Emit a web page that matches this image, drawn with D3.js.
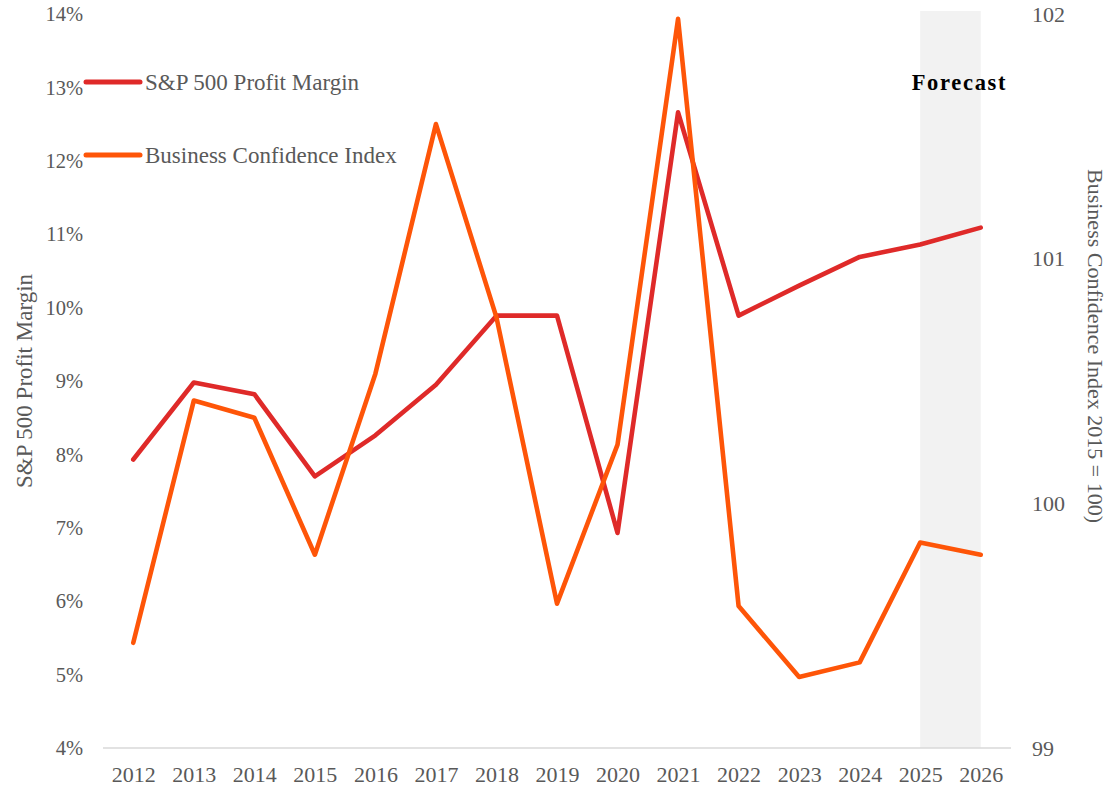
<!DOCTYPE html>
<html><head><meta charset="utf-8">
<script src="https://cdn.jsdelivr.net/npm/d3@7"></script>
<style>
html,body{margin:0;padding:0;background:#fff;}
svg{display:block;font-family:"Liberation Serif","DejaVu Serif",serif;}
</style></head><body>
<svg id="chart" width="1112" height="788"></svg>
<script>
const years = ["2012","2013","2014","2015","2016","2017","2018","2019","2020","2021","2022","2023","2024","2025","2026"];
const profitMargin = [7.93, 8.98, 8.82, 7.70, 8.26, 8.95, 9.89, 9.89, 6.93, 12.66, 9.89, 10.30, 10.69, 10.86, 11.09];
const businessConfidence = [99.43, 100.42, 100.35, 99.79, 100.53, 101.55, 100.76, 99.59, 100.24, 101.98, 99.58, 99.29, 99.35, 99.84, 99.79];
const marginTicks = [4,5,6,7,8,9,10,11,12,13,14];
const confidenceTicks = [99,100,101,102];
const forecastYears = ["2025","2026"];
const seriesNames = ["S&P 500 Profit Margin","Business Confidence Index"];
const seriesColors = ["#df2a29","#fe5508"];
const leftTitle = "S&P 500 Profit Margin";
const rightTitle = "Business Confidence Index 2015 = 100)";
const forecastLabel = "Forecast";

const svg = d3.select("#chart");
const plot = {left:103, right:1011, top:14, bottom:748};
const textColor = "#595959";

const x = d3.scalePoint().domain(years).range([plot.left, plot.right]).padding(0.5);
const yL = d3.scaleLinear().domain([4,14]).range([plot.bottom, plot.top]);
const yR = d3.scaleLinear().domain([99,102]).range([plot.bottom, plot.top]);

// forecast shading
svg.append("rect")
  .attr("x", x(forecastYears[0]))
  .attr("width", x(forecastYears[1]) - x(forecastYears[0]))
  .attr("y", plot.top - 3)
  .attr("height", plot.bottom - plot.top + 3)
  .attr("fill", "#f2f2f2");

// baseline
svg.append("line")
  .attr("x1", plot.left).attr("x2", plot.right)
  .attr("y1", yL(4)).attr("y2", yL(4))
  .attr("stroke", "#d9d9d9").attr("stroke-width", 1.5);

// left axis
const gL = svg.append("g").attr("transform", `translate(${plot.left},0)`)
  .call(d3.axisLeft(yL).tickValues(marginTicks).tickSize(0).tickPadding(20).tickFormat(d => d + "%"));
gL.select(".domain").remove();
gL.selectAll("text").attr("font-size", 20.5).attr("fill", textColor).attr("dy", "0.33em")
  .attr("font-family", '"Liberation Serif",serif');

// right axis
const gR = svg.append("g").attr("transform", `translate(${plot.right},0)`)
  .call(d3.axisRight(yR).tickValues(confidenceTicks).tickSize(0).tickPadding(21).tickFormat(d3.format("d")));
gR.select(".domain").remove();
gR.selectAll("text").attr("font-size", 22).attr("fill", textColor).attr("dy", "0.33em")
  .attr("font-family", '"Liberation Serif",serif');

// bottom axis
const gB = svg.append("g").attr("transform", `translate(0,${plot.bottom})`)
  .call(d3.axisBottom(x).tickSize(0).tickPadding(27));
gB.select(".domain").remove();
gB.selectAll("text").attr("font-size", 22).attr("fill", textColor).attr("dy", "0.33em")
  .attr("font-family", '"Liberation Serif",serif');

// axis titles
svg.append("text")
  .attr("transform", `translate(32,${(plot.top + plot.bottom) / 2}) rotate(-90)`)
  .attr("text-anchor", "middle").attr("font-size", 23).attr("fill", textColor)
  .text(leftTitle);
svg.append("text")
  .attr("transform", `translate(1088,346) rotate(90)`)
  .attr("text-anchor", "middle").attr("font-size", 22).attr("fill", textColor)
  .text(rightTitle);

// lines
const lineL = d3.line().x((d, i) => x(years[i])).y(d => yL(d));
const lineR = d3.line().x((d, i) => x(years[i])).y(d => yR(d));
svg.append("path").datum(profitMargin).attr("d", lineL)
  .attr("fill", "none").attr("stroke", seriesColors[0]).attr("stroke-width", 4.6)
  .attr("stroke-linejoin", "round").attr("stroke-linecap", "round");
svg.append("path").datum(businessConfidence).attr("d", lineR)
  .attr("fill", "none").attr("stroke", seriesColors[1]).attr("stroke-width", 4.6)
  .attr("stroke-linejoin", "round").attr("stroke-linecap", "round");

// forecast label
svg.append("text")
  .attr("x", (x(forecastYears[0]) + x(forecastYears[1])) / 2 + 9)
  .attr("y", 90)
  .attr("text-anchor", "middle").attr("font-size", 22.5).attr("font-weight", "bold")
  .attr("letter-spacing", 1.7).attr("fill", "#000")
  .text(forecastLabel);

// legend
const legendY = [82, 155];
const leg = svg.append("g");
seriesNames.forEach((name, i) => {
  leg.append("line").attr("x1", 86).attr("x2", 140).attr("y1", legendY[i]).attr("y2", legendY[i])
    .attr("stroke", seriesColors[i]).attr("stroke-width", 5).attr("stroke-linecap", "round");
  leg.append("text").attr("x", 145).attr("y", legendY[i]).attr("dy", "0.33em")
    .attr("font-size", 23).attr("fill", textColor).text(name);
});
</script>
</body></html>
